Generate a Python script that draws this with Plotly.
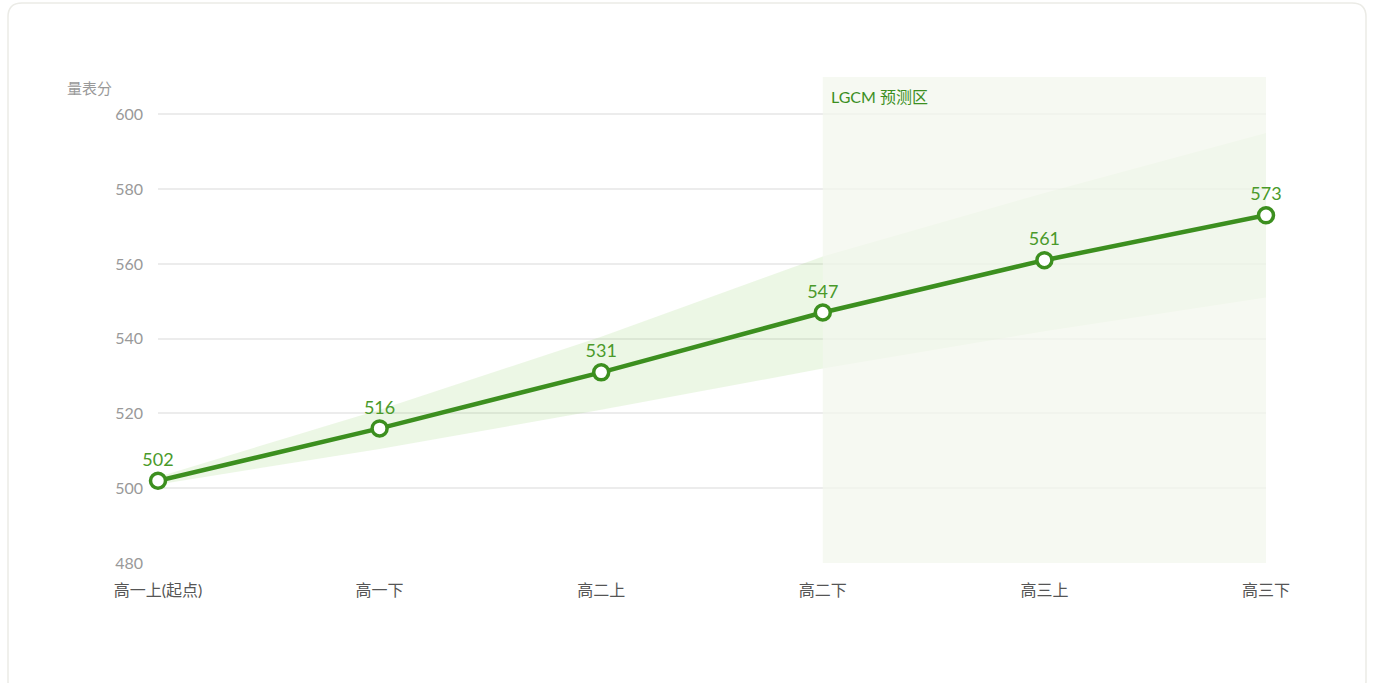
import plotly.graph_objects as go

categories = ["高一上(起点)", "高一下", "高二上", "高二下", "高三上", "高三下"]
scores = [502, 516, 531, 547, 561, 573]
upper = [503, 521, 540.5, 562, 579, 595]
lower = [501, 510.5, 521, 532, 542, 551]
y_ticks = [480, 500, 520, 540, 560, 580, 600]
y_title = "量表分"
zone_label = "LGCM 预测区"
zone_start = 3
y_range = [480, 610]

GREEN = "#3c8f1f"
FONT = "Lato, 'Noto Sans CJK SC', sans-serif"

W, H = 1374, 683
ML, MR, MT, MB = 158, 108, 77, 120
PW, PH = W - ML - MR, H - MT - MB


def px2paper(x, y):
    return (x - ML) / PW, (H - MB - y) / PH


def rounded_rect(x0, y0, x1, y1, r):
    def P(x, y):
        px, py = px2paper(x, y)
        return f"{px:.5f},{py:.5f}"
    path = f"M {P(x0 + r, y0)} L {P(x1 - r, y0)} Q {P(x1, y0)} {P(x1, y0 + r)} "
    path += f"L {P(x1, y1 - r)} Q {P(x1, y1)} {P(x1 - r, y1)} "
    path += f"L {P(x0 + r, y1)} Q {P(x0, y1)} {P(x0, y1 - r)} "
    path += f"L {P(x0, y0 + r)} Q {P(x0, y0)} {P(x0 + r, y0)} Z"
    return path


xs = list(range(len(categories)))
last = len(categories) - 1

fig = go.Figure()
fig.add_trace(go.Scatter(x=xs, y=upper, mode="lines", line=dict(width=0),
                         hoverinfo="skip", showlegend=False))
fig.add_trace(go.Scatter(x=xs, y=lower, mode="lines", line=dict(width=0),
                         fill="tonexty", fillcolor="rgba(140,210,100,0.17)",
                         hoverinfo="skip", showlegend=False))
# prediction zone overlay
fig.add_trace(go.Scatter(x=[zone_start, last, last, zone_start],
                         y=[y_range[0], y_range[0], y_range[1], y_range[1]],
                         mode="lines", line=dict(width=0), fill="toself",
                         fillcolor="rgba(243,247,238,0.75)", hoverinfo="skip", showlegend=False))
fig.add_trace(go.Scatter(
    x=xs, y=scores, mode="lines+markers+text",
    line=dict(color=GREEN, width=4.5),
    marker=dict(size=15, color="white", line=dict(color=GREEN, width=3.5)),
    text=[str(v) for v in scores], textposition="top center",
    textfont=dict(color="#4a9a2a", size=18, family=FONT),
    showlegend=False, cliponaxis=False))

fig.add_shape(type="path", xref="paper", yref="paper", path=rounded_rect(8, 3, 1366, 695, 14),
              line=dict(color="#ebebe6", width=1.5), fillcolor="rgba(0,0,0,0)", layer="below")

fig.add_annotation(x=zone_start, y=1, xref="x", yref="paper", text=zone_label,
                   showarrow=False, xanchor="left", yanchor="top", xshift=6, yshift=-8,
                   font=dict(color="#3c8f1f", size=16, family=FONT))
fx, fy = px2paper(65, 88)
fig.add_annotation(x=fx, y=fy, xref="paper", yref="paper", text=y_title, showarrow=False,
                   xanchor="left", yanchor="middle", font=dict(color="#999999", size=15, family=FONT))

fig.update_layout(
    width=W, height=H,
    margin=dict(l=ML, r=MR, t=MT, b=MB),
    paper_bgcolor="white", plot_bgcolor="white",
    font=dict(family=FONT),
    xaxis=dict(range=[0, last], tickvals=xs, ticktext=categories,
               showgrid=False, zeroline=False, showline=False, ticks="",
               tickfont=dict(color="#555555", size=16, family=FONT), ticklabelstandoff=16),
    yaxis=dict(range=y_range, tickvals=y_ticks, showgrid=True, gridcolor="#ececec",
               gridwidth=1.5, zeroline=False, showline=False, ticks="",
               tickfont=dict(color="#999999", size=16, family=FONT), ticklabelstandoff=14),
)

fig.write_html("out.html", config={"displayModeBar": False},
               post_script="document.body.style.margin='0';document.body.style.overflow='hidden';")
